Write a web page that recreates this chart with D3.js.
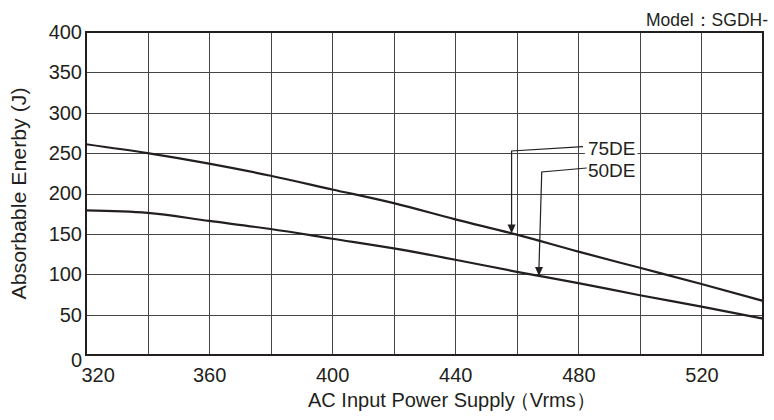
<!DOCTYPE html>
<html>
<head>
<meta charset="utf-8">
<script src="https://cdn.jsdelivr.net/npm/d3@7"></script>
<style>
  html, body { margin: 0; padding: 0; background: #fff; }
  svg { display: block; font-family: "Liberation Sans", Arial, Helvetica, sans-serif; }
</style>
</head>
<body>
<svg id="chart" width="774" height="420"></svg>
<script>
// ---- data ----
const voltages   = [320, 340, 360, 380, 400, 420, 440, 460, 480, 500, 520, 540];
const energy75DE = [261, 250, 237, 222, 205, 188, 168, 149, 128, 108, 88, 67];
const energy50DE = [179, 176, 166, 156, 144, 132, 118, 103, 89, 74, 60, 45];
const seriesNames = ["75DE", "50DE"];
const xTickLabels = [320, 360, 400, 440, 480, 520];
const yTickLabels = [0, 50, 100, 150, 200, 250, 300, 350, 400];
const xGridValues = [320, 340, 360, 380, 400, 420, 440, 460, 480, 500, 520, 540];
// annotation anchors (data units)
const annoTextX  = [483.1, 483.1];
const annoTextY  = [256, 228.7];
const annoStartX = [481.5, 482.7];
const annoStartY = [258, 231.6];
const annoElbowX = [458.3, 468.1];
const annoElbowY = [252.6, 226.6];
const annoTipX   = [458.3, 467.2];

const titleText = "Model：SGDH-";
const xTitleMain = "AC Input Power Supply";
const xTitleUnit = "（Vrms）";
const yTitle = "Absorbable Enerby (J)";

// ---- layout ----
const svg = d3.select("#chart");
const L = 86, R = 763, T = 32, B = 355;
const x = d3.scaleLinear().domain([320, 540]).range([L, R]);
const y = d3.scaleLinear().domain([0, 400]).range([B, T]);
const ink = "#231f20";

// grid
const g = svg.append("g");
g.selectAll(".vg").data(xGridValues).join("line")
  .attr("x1", d => Math.round(x(d)) + 0.5).attr("x2", d => Math.round(x(d)) + 0.5)
  .attr("y1", T).attr("y2", B)
  .attr("stroke", "#444").attr("stroke-width", 1);
g.selectAll(".hg").data(yTickLabels).join("line")
  .attr("y1", d => Math.round(y(d)) + 0.5).attr("y2", d => Math.round(y(d)) + 0.5)
  .attr("x1", L).attr("x2", R)
  .attr("stroke", "#444").attr("stroke-width", 1);

// frame
svg.append("rect").attr("x", L).attr("y", T).attr("width", R - L).attr("height", B - T)
  .attr("fill", "none").attr("stroke", ink).attr("stroke-width", 2);

// axes (labels only)
const xAxis = d3.axisBottom(x).tickValues(xTickLabels).tickSize(0).tickPadding(13);
const xa = svg.append("g").attr("transform", `translate(0,${B})`).call(xAxis);
xa.select(".domain").remove();
xa.selectAll("text").attr("font-size", 20).attr("fill", ink).attr("font-family", "Liberation Sans, Arial, sans-serif");
xa.selectAll(".tick").filter((d, i) => i === 0).select("text").attr("text-anchor", "start").attr("dx", -5);

const yAxis = d3.axisLeft(y).tickValues(yTickLabels).tickSize(0).tickPadding(4);
const ya = svg.append("g").attr("transform", `translate(${L},0)`).call(yAxis);
ya.select(".domain").remove();
ya.selectAll("text").attr("font-size", 20).attr("fill", ink).attr("font-family", "Liberation Sans, Arial, sans-serif");
ya.selectAll(".tick").filter(d => d === 0).select("text").attr("dy", "0.55em");

// curves
const seriesData = [energy75DE, energy50DE];
const line = d3.line().x((d, i) => x(voltages[i])).y(d => y(d)).curve(d3.curveMonotoneX);
svg.selectAll(".curve").data(seriesData).join("path")
  .attr("d", d => line(d))
  .attr("fill", "none").attr("stroke", ink).attr("stroke-width", 2.2);

// annotations
function interp(arr, v) { return d3.scaleLinear().domain(voltages).range(arr)(v); }
seriesNames.forEach((name, i) => {
  const tipY = y(interp(seriesData[i], annoTipX[i]));
  const pts = [[x(annoStartX[i]), y(annoStartY[i])], [x(annoElbowX[i]), y(annoElbowY[i])], [x(annoTipX[i]), tipY - 8]];
  const t = svg.append("text").attr("x", x(annoTextX[i])).attr("y", y(annoTextY[i]))
    .attr("dy", "0.35em").attr("font-size", 19).attr("fill", ink).text(name);
  const bb = t.node().getBBox();
  svg.insert("rect", () => t.node()).attr("x", bb.x - 3).attr("y", bb.y + 2).attr("width", bb.width + 5).attr("height", bb.height - 4).attr("fill", "#fff");
  svg.append("path").attr("d", d3.line()(pts)).attr("fill", "none").attr("stroke", ink).attr("stroke-width", 1.2);
  const tx = x(annoTipX[i]);
  svg.append("path").attr("d", `M${tx - 4},${tipY - 9}L${tx + 4},${tipY - 9}L${tx},${tipY}Z`).attr("fill", ink);
});

// titles
svg.append("text").attr("x", 768).attr("y", 26).attr("text-anchor", "end")
  .attr("font-size", 17.5).attr("fill", ink).text(titleText);
const xt = svg.append("text").attr("x", 308).attr("y", 407).attr("text-anchor", "start")
  .attr("font-size", 20).attr("fill", ink);
xt.append("tspan").text(xTitleMain);
xt.append("tspan").attr("dx", -5).text(xTitleUnit);
svg.append("text").attr("transform", `translate(26,${(T + B) / 2}) rotate(-90)`).attr("text-anchor", "middle")
  .attr("font-size", 20).attr("fill", ink)
  .attr("textLength", 212).attr("lengthAdjust", "spacingAndGlyphs").text(yTitle);
</script>
</body>
</html>
